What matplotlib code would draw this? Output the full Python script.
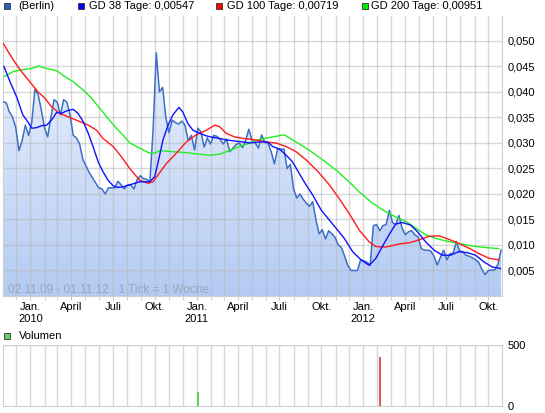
import numpy as np
import pandas as pd
import matplotlib
matplotlib.use('Agg')
import matplotlib.pyplot as plt
import matplotlib.dates as mdates
from matplotlib.colors import LinearSegmentedColormap
from matplotlib.patches import Rectangle

plt.rcParams['font.family'] = ['Liberation Sans', 'DejaVu Sans']

start = pd.Timestamp('2009-11-02')

# weekly closes, Berlin (1 Tick = 1 Woche)
prices = [
    0.0381, 0.0379, 0.0361, 0.0351, 0.0330, 0.0285, 0.0305, 0.0335, 0.0315, 0.0340,
    0.0405, 0.0395, 0.0365, 0.0330, 0.0312, 0.0350, 0.0385, 0.0380, 0.0355, 0.0385,
    0.0380, 0.0355, 0.0315, 0.0310, 0.0298, 0.0268, 0.0255, 0.0242, 0.0232, 0.0222,
    0.0212, 0.0210, 0.0200, 0.0212, 0.0212, 0.0212, 0.0225, 0.0218, 0.0210, 0.0218,
    0.0218, 0.0210, 0.0228, 0.0236, 0.0230, 0.0229, 0.0224, 0.0325, 0.0477, 0.0400,
    0.0409, 0.0350, 0.0320, 0.0345, 0.0340, 0.0337, 0.0343, 0.0335, 0.0305, 0.0315,
    0.0286, 0.0329, 0.0322, 0.0292, 0.0310, 0.0298, 0.0315, 0.0313, 0.0307, 0.0298,
    0.0308, 0.0283, 0.0290, 0.0297, 0.0300, 0.0291, 0.0305, 0.0327, 0.0305, 0.0300,
    0.0290, 0.0316, 0.0301, 0.0300, 0.0283, 0.0259, 0.0288, 0.0288, 0.0288, 0.0250,
    0.0258, 0.0210, 0.0192, 0.0200, 0.0190, 0.0182, 0.0176, 0.0185, 0.0150, 0.0122,
    0.0130, 0.0112, 0.0128, 0.0122, 0.0115, 0.0100, 0.0095, 0.0078, 0.0060, 0.0050,
    0.0050, 0.0050, 0.0071, 0.0069, 0.0066, 0.0061, 0.0138, 0.0140, 0.0128, 0.0138,
    0.0140, 0.0168, 0.0144, 0.0140, 0.0158, 0.0133, 0.0120, 0.0126, 0.0128, 0.0120,
    0.0116, 0.0093, 0.0090, 0.0090, 0.0088, 0.0078, 0.0061, 0.0076, 0.0090, 0.0071,
    0.0083, 0.0084, 0.0107, 0.0088, 0.0087, 0.0080, 0.0078, 0.0075, 0.0071, 0.0066,
    0.0052, 0.0042, 0.0050, 0.0051, 0.0051, 0.0062, 0.0090,
]

# moving averages, position in weeks from start
gd38_wk = [0.3, 2.2, 4.3, 6.2, 7.4, 9.0, 10.5, 12.1, 13.7, 15.2, 16.8, 18.3, 19.9, 22.0,
           23.5, 25.1, 26.7, 28.2, 29.8, 31.3, 32.9, 34.5, 36.0, 37.6, 39.7, 42.8, 46.0,
           47.5, 48.5, 50.1, 51.7, 53.2, 55.1, 56.3, 57.9, 59.5, 61.6, 63.7, 65.7, 67.8,
           69.9, 72.5, 75.1, 77.2, 80.3, 82.9, 84.5, 86.6, 88.7, 90.7, 92.8, 94.9, 97.0,
           99.6, 102.2, 104.3, 106.9, 109.5, 112.1, 114.7, 116.8, 118.8, 120.9, 123.0,
           125.1, 127.7, 129.8, 132.4, 135.0, 137.6, 140.2, 142.8, 145.4, 148.0, 150.6,
           153.2, 155.8]
gd38 = [0.0450, 0.0420, 0.0390, 0.0355, 0.0345, 0.0329, 0.0330, 0.0334, 0.0335, 0.0345,
        0.0360, 0.0358, 0.0363, 0.0366, 0.0358, 0.0342, 0.0319, 0.0293, 0.0263, 0.0244,
        0.0227, 0.0216, 0.0213, 0.0214, 0.0218, 0.0224, 0.0224, 0.0234, 0.0260, 0.0306,
        0.0335, 0.0355, 0.0370, 0.0361, 0.0338, 0.0325, 0.0319, 0.0314, 0.0311, 0.0309,
        0.0306, 0.0304, 0.0302, 0.0300, 0.0302, 0.0302, 0.0293, 0.0288, 0.0276, 0.0263,
        0.0240, 0.0218, 0.0198, 0.0169, 0.0149, 0.0133, 0.0113, 0.0087, 0.0071, 0.0060,
        0.0074, 0.0097, 0.0120, 0.0141, 0.0144, 0.0139, 0.0126, 0.0106, 0.0090, 0.0080,
        0.0080, 0.0087, 0.0085, 0.0080, 0.0067, 0.0057, 0.0054]

gd100_wk = [0.1, 3.2, 5.8, 8.4, 11.0, 13.1, 15.2, 17.8, 20.9, 24.1, 26.7, 29.3, 31.3, 34.5,
            37.1, 39.7, 42.8, 45.4, 47.0, 48.5, 51.2, 54.3, 57.4, 60.5, 63.7, 66.3, 67.8,
            69.9, 72.5, 75.1, 78.2, 82.4, 85.5, 88.7, 91.8, 94.9, 98.5, 102.2, 105.3,
            108.4, 111.6, 114.7, 116.8, 119.9, 124.1, 127.7, 130.3, 133.4, 136.6, 139.7,
            142.8, 145.9, 149.1, 152.2, 155.3]
gd100 = [0.0495, 0.0463, 0.0440, 0.0420, 0.0400, 0.0388, 0.0371, 0.0358, 0.0350, 0.0342,
         0.0335, 0.0325, 0.0309, 0.0293, 0.0273, 0.0250, 0.0227, 0.0221, 0.0224, 0.0237,
         0.0260, 0.0280, 0.0302, 0.0316, 0.0325, 0.0335, 0.0332, 0.0319, 0.0312, 0.0309,
         0.0307, 0.0302, 0.0300, 0.0293, 0.0283, 0.0267, 0.0245, 0.0218, 0.0191, 0.0162,
         0.0129, 0.0106, 0.0097, 0.0096, 0.0102, 0.0105, 0.0110, 0.0117, 0.0118, 0.0111,
         0.0103, 0.0094, 0.0083, 0.0074, 0.0071]

gd200_wk = [0.3, 3.2, 6.3, 9.0, 11.0, 13.7, 16.8, 19.4, 22.0, 25.1, 27.7, 30.3, 32.9, 35.5,
            38.1, 39.7, 42.8, 45.9, 47.5, 49.1, 53.2, 57.4, 61.6, 64.7, 67.8, 70.9, 74.1,
            77.2, 80.3, 84.5, 88.1, 91.8, 95.9, 100.1, 104.3, 108.4, 111.6, 115.7, 119.9,
            123.0, 126.2, 129.3, 132.4, 135.5, 138.7, 142.8, 147.0, 151.2, 155.3]
gd200 = [0.0430, 0.0440, 0.0444, 0.0446, 0.0451, 0.0446, 0.0442, 0.0430, 0.0420, 0.0404,
         0.0388, 0.0368, 0.0348, 0.0329, 0.0312, 0.0300, 0.0290, 0.0280, 0.0280, 0.0285,
         0.0283, 0.0281, 0.0278, 0.0276, 0.0278, 0.0285, 0.0293, 0.0300, 0.0307, 0.0312,
         0.0316, 0.0302, 0.0286, 0.0267, 0.0247, 0.0224, 0.0204, 0.0182, 0.0165, 0.0155,
         0.0146, 0.0133, 0.0120, 0.0113, 0.0108, 0.0103, 0.0098, 0.0095, 0.0093]

vol_dates = ['2011-01-03', '2012-02-06']
vol_values = [115, 405]
vol_colors = ['#5ccc5c', '#d85a5a']

tick_months = pd.date_range('2010-01-01', '2012-10-01', freq='QS')
tick_labels = ['Jan.\n2010', 'April', 'Juli', 'Okt.',
               'Jan.\n2011', 'April', 'Juli', 'Okt.',
               'Jan.\n2012', 'April', 'Juli', 'Okt.']
legend_labels = ['(Berlin)', 'GD 38 Tage: 0,00547', 'GD 100 Tage: 0,00719', 'GD 200 Tage: 0,00951']
legend_colors = ['#2a62c0', '#0000ff', '#ff0000', '#00ee00']

W, H = 545, 413
def fx(x): return x / W
def fy(y): return 1 - y / H

fig = plt.figure(figsize=(W / 100, H / 100), dpi=100)
ax = fig.add_axes([fx(3), fy(296), (502 - 3) / W, 280 / H])
ax2 = fig.add_axes([fx(3), fy(406), (502 - 3) / W, 61 / H])

dates = start + pd.to_timedelta(np.arange(len(prices)) * 7, unit='D')
def wk_dates(w):
    return start + pd.to_timedelta(np.array(w) * 7, unit='D')

x0, x1 = pd.Timestamp('2009-11-02'), pd.Timestamp('2012-10-31')
ytop = 0.0549

# price area with vertical gradient
poly = ax.fill_between(dates, prices, 0, color='none', lw=0)
grad = np.linspace(0, 1, 256).reshape(-1, 1)
cmap = LinearSegmentedColormap.from_list('fill', ['#b3cbf4', '#f2f6fe'])
im = ax.imshow(grad, aspect='auto', cmap=cmap, origin='lower', zorder=1,
               extent=[mdates.date2num(x0), mdates.date2num(x1), 0, ytop])
im.set_clip_path(poly.get_paths()[0], transform=ax.transData)

ax.plot(dates, prices, color='#3d6fc6', lw=1.1, zorder=3)
ax.plot(wk_dates(gd200_wk), gd200, color='#22ee22', lw=1.0, zorder=4)
ax.plot(wk_dates(gd100_wk), gd100, color='#ff1a1a', lw=1.0, zorder=5)
ax.plot(wk_dates(gd38_wk), gd38, color='#1010ff', lw=1.0, zorder=6)

month_lines = pd.date_range('2009-12-01', '2012-10-01', freq='MS')
for a in (ax, ax2):
    a.set_xlim(x0, x1)
    for m in month_lines:
        a.axvline(m, color='#b8b8b8', lw=1, alpha=0.55, zorder=2)
    for s in a.spines.values():
        s.set_color('#cfcfcf')
    a.spines['top'].set_visible(False)

for v in np.arange(0.005, 0.051, 0.005):
    ax.axhline(v, color='#b8b8b8', lw=1, alpha=0.55, zorder=2)

ax.set_ylim(0, ytop)
ax.yaxis.tick_right()
ax.set_yticks(np.arange(0.005, 0.051, 0.005))
ax.set_yticklabels([f'{v:.3f}'.replace('.', ',') for v in np.arange(0.005, 0.051, 0.005)])
ax.tick_params(axis='y', length=0, pad=4, labelsize=8)
ax.set_xticks(tick_months)
ax.set_xticklabels(tick_labels, fontsize=8, linespacing=1.3)
ax.set_xticks(month_lines, minor=True)
ax.tick_params(axis='x', which='both', length=3, color='#c8c8c8', pad=1)

ax.text(0.01, 0.012, '02.11.09 - 01.11.12   1 Tick = 1 Woche', transform=ax.transAxes,
        fontsize=8.5, color='#9aa6b8', zorder=7)

# volume
ax2.bar(pd.to_datetime(vol_dates), vol_values, width=4.5, color=vol_colors, lw=0, zorder=3)
ax2.set_ylim(0, 500)
ax2.axhline(500, color='#cfcfcf', lw=1)
ax2.yaxis.tick_right()
ax2.set_yticks([0, 500])
ax2.set_yticklabels(['0', '500'])
ax2.tick_params(axis='y', length=0, pad=4, labelsize=8)
ax2.set_xticks([])

# legends
sq_x = [3.5, 78, 216, 362]
tx_x = [18, 89, 227, 371]
for sx, tx, lab, col in zip(sq_x, tx_x, legend_labels, legend_colors):
    fig.patches.append(Rectangle((fx(sx), fy(9)), 6 / W, 6 / H, transform=fig.transFigure,
                                 facecolor=col, edgecolor='#333333', lw=0.6))
    fig.text(fx(tx), fy(6), lab, fontsize=8, va='center', ha='left')

fig.patches.append(Rectangle((fx(3.5), fy(339)), 6 / W, 6 / H, transform=fig.transFigure,
                             facecolor='#66cc66', edgecolor='#333333', lw=0.6))
fig.text(fx(19), fy(336), 'Volumen', fontsize=8, va='center', ha='left')

fig.savefig('out.png', dpi=100)
